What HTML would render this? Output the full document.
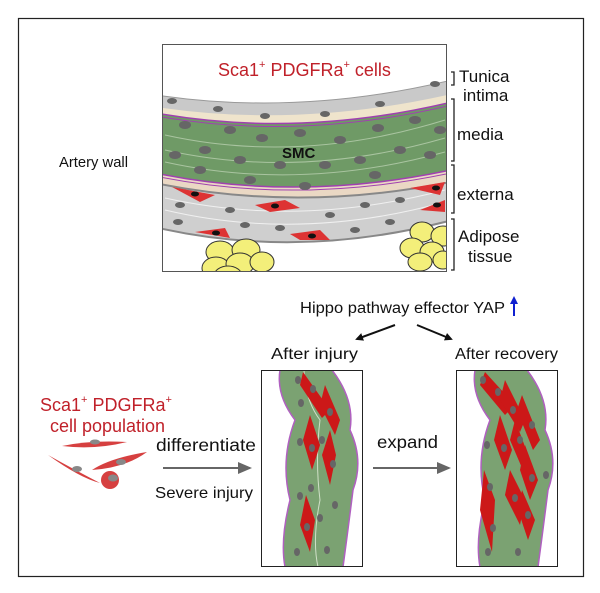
<!DOCTYPE html>
<html><head><meta charset="utf-8"><style>
html,body{margin:0;padding:0;background:#fff}
svg{display:block}
text{font-family:"Liberation Sans",Arial,sans-serif}
</style></head><body>
<svg width="600" height="593" viewBox="0 0 600 593" xmlns="http://www.w3.org/2000/svg">
<defs>
<clipPath id="ct"><rect x="163" y="45" width="283" height="226"/></clipPath>
<clipPath id="cl"><rect x="261" y="370" width="102" height="197"/></clipPath>
<clipPath id="cr"><rect x="456" y="370" width="102" height="197"/></clipPath>
<marker id="ah" markerWidth="8" markerHeight="8" refX="6" refY="4" orient="auto" markerUnits="userSpaceOnUse"><path d="M0,0 L8,4 L0,8z" fill="#111"/></marker>
<marker id="ag" markerWidth="14" markerHeight="12" refX="12" refY="6" orient="auto" markerUnits="userSpaceOnUse"><path d="M0,0 L14,6 L0,12z" fill="#666"/></marker>
</defs>
<rect x="18.5" y="18.5" width="565" height="558" fill="#fff" stroke="#222" stroke-width="1.2"/>

<rect x="162.5" y="44.5" width="284" height="227" fill="#fff" stroke="#555"/>
<g clip-path="url(#ct)">
 <path d="M150,94 Q300,118 460,78 L460,100 Q300,140 150,110z" fill="#c9c9c9" stroke="#999"/>
 <path d="M150,106 Q300,130 460,92 L460,104 Q300,144 150,114z" fill="#efe4cc"/>
 <path d="M150,112 Q300,140 460,100 L460,168 Q300,204 150,172z" fill="#6f9a66"/>
 <path d="M150,172 Q300,204 460,168 L460,180 Q300,214 150,182z" fill="#ead8c4"/>
 <path d="M150,182 Q300,214 460,180 L460,218 Q300,262 150,226z" fill="#cfcfcf" stroke="#888" stroke-width="2"/>
 <path d="M150,112 Q300,140 460,100" fill="none" stroke="#a040b0" stroke-width="1.5"/>
 <path d="M150,115 Q300,143 460,103" fill="none" stroke="#a040b0" stroke-width="1"/>
 <path d="M150,172 Q300,204 460,168" fill="none" stroke="#a040b0" stroke-width="1.5"/>
 <path d="M150,175 Q300,207 460,171" fill="none" stroke="#a040b0" stroke-width="1"/>
 <g stroke="#a9c4a0" stroke-width="1" fill="none">
  <path d="M165,135 Q300,165 445,120"/><path d="M165,150 Q300,180 445,138"/><path d="M165,162 Q300,192 445,152"/>
 </g>
 <g stroke="#f0f0f0" stroke-width="1" fill="none">
  <path d="M165,198 Q300,228 445,190"/><path d="M165,210 Q300,242 445,202"/>
 </g>
 <g fill="#d33">
  <path d="M172,187 L215,195 L200,202z"/><path d="M255,205 L285,200 L300,208 L270,212z"/><path d="M410,188 L445,182 L440,195z"/><path d="M420,210 L445,200 L445,212z"/><path d="M195,232 L225,228 L230,238z"/><path d="M290,234 L320,230 L330,240 L300,240z"/>
 </g>
 <g fill="#111"><ellipse cx="195" cy="194" rx="4" ry="2.5"/><ellipse cx="275" cy="206" rx="4" ry="2.5"/><ellipse cx="436" cy="188" rx="4" ry="2.5"/><ellipse cx="437" cy="205" rx="4" ry="2.5"/><ellipse cx="216" cy="233" rx="4" ry="2.5"/><ellipse cx="312" cy="236" rx="4" ry="2.5"/></g>
 <g fill="#666">
  <ellipse cx="172" cy="101" rx="5" ry="3"/><ellipse cx="218" cy="109" rx="5" ry="3"/><ellipse cx="265" cy="116" rx="5" ry="3"/><ellipse cx="325" cy="114" rx="5" ry="3"/><ellipse cx="380" cy="104" rx="5" ry="3"/><ellipse cx="435" cy="84" rx="5" ry="3"/>
  <ellipse cx="185" cy="125" rx="6" ry="4"/><ellipse cx="230" cy="130" rx="6" ry="4"/><ellipse cx="262" cy="138" rx="6" ry="4"/><ellipse cx="300" cy="133" rx="6" ry="4"/><ellipse cx="340" cy="140" rx="6" ry="4"/><ellipse cx="378" cy="128" rx="6" ry="4"/><ellipse cx="415" cy="120" rx="6" ry="4"/><ellipse cx="440" cy="130" rx="6" ry="4"/>
  <ellipse cx="175" cy="155" rx="6" ry="4"/><ellipse cx="205" cy="150" rx="6" ry="4"/><ellipse cx="240" cy="160" rx="6" ry="4"/><ellipse cx="280" cy="165" rx="6" ry="4"/><ellipse cx="325" cy="165" rx="6" ry="4"/><ellipse cx="360" cy="160" rx="6" ry="4"/><ellipse cx="400" cy="150" rx="6" ry="4"/><ellipse cx="430" cy="155" rx="6" ry="4"/>
  <ellipse cx="200" cy="170" rx="6" ry="4"/><ellipse cx="250" cy="180" rx="6" ry="4"/><ellipse cx="305" cy="186" rx="6" ry="4"/><ellipse cx="375" cy="175" rx="6" ry="4"/>
  <ellipse cx="180" cy="205" rx="5" ry="3"/><ellipse cx="230" cy="210" rx="5" ry="3"/><ellipse cx="330" cy="215" rx="5" ry="3"/><ellipse cx="365" cy="205" rx="5" ry="3"/><ellipse cx="400" cy="200" rx="5" ry="3"/><ellipse cx="245" cy="225" rx="5" ry="3"/><ellipse cx="280" cy="228" rx="5" ry="3"/><ellipse cx="355" cy="230" rx="5" ry="3"/><ellipse cx="390" cy="222" rx="5" ry="3"/><ellipse cx="178" cy="222" rx="5" ry="3"/>
 </g>
 <g fill="#f3ef7a" stroke="#333" stroke-width="1">
  <ellipse cx="220" cy="252" rx="14" ry="11"/><ellipse cx="246" cy="250" rx="14" ry="11"/><ellipse cx="216" cy="268" rx="14" ry="11"/><ellipse cx="240" cy="264" rx="14" ry="11"/><ellipse cx="262" cy="262" rx="12" ry="10"/><ellipse cx="228" cy="276" rx="14" ry="10"/>
  <ellipse cx="422" cy="232" rx="12" ry="10"/><ellipse cx="443" cy="236" rx="12" ry="10"/><ellipse cx="412" cy="248" rx="12" ry="10"/><ellipse cx="432" cy="252" rx="12" ry="10"/><ellipse cx="420" cy="262" rx="12" ry="9"/><ellipse cx="443" cy="260" rx="10" ry="9"/>
 </g>
 <text x="282" y="158" font-size="15" font-weight="bold" fill="#111">SMC</text>
</g>
<text x="218" y="76" font-size="18" fill="#c0212a">Sca1<tspan font-size="11" dy="-8">+</tspan><tspan dy="8"> PDGFRa</tspan><tspan font-size="11" dy="-8">+</tspan><tspan dy="8"> cells</tspan></text>

<g stroke="#222" stroke-width="1.3" fill="none">
 <path d="M451,72 h3 v13 h-3"/><path d="M451,99 h3 v62 h-3"/><path d="M451,165 h3 v48 h-3"/><path d="M451,219 h3 v51 h-3"/>
</g>
<g font-size="17" fill="#111">
 <text x="459" y="82">Tunica</text><text x="463" y="101">intima</text>
 <text x="457" y="140">media</text><text x="457" y="200">externa</text>
 <text x="458" y="242">Adipose</text><text x="468" y="262">tissue</text>
</g>
<text x="59" y="167" font-size="15" fill="#111" textLength="69" lengthAdjust="spacingAndGlyphs">Artery wall</text>

<text x="300" y="313" font-size="15.5" fill="#111" textLength="205" lengthAdjust="spacingAndGlyphs">Hippo pathway effector YAP</text>
<path d="M514,316 V302" stroke="#1020d0" stroke-width="2"/><path d="M510,304 L514,296 L518,304z" fill="#1020d0"/>
<line x1="395" y1="325" x2="357" y2="339" stroke="#111" stroke-width="2" marker-end="url(#ah)"/>
<line x1="417" y1="325" x2="451" y2="339" stroke="#111" stroke-width="2" marker-end="url(#ah)"/>
<text x="271" y="359" font-size="15.5" fill="#111" textLength="87" lengthAdjust="spacingAndGlyphs">After injury</text>
<text x="455" y="359" font-size="15.5" fill="#111" textLength="103" lengthAdjust="spacingAndGlyphs">After recovery</text>

<text x="40" y="411" font-size="18" fill="#c0212a">Sca1<tspan font-size="11" dy="-8">+</tspan><tspan dy="8"> PDGFRa</tspan><tspan font-size="11" dy="-8">+</tspan></text>
<text x="50" y="432" font-size="18" fill="#c0212a" textLength="115" lengthAdjust="spacingAndGlyphs">cell population</text>
<text x="156" y="451" font-size="17.5" fill="#111" textLength="100" lengthAdjust="spacingAndGlyphs">differentiate</text>
<text x="155" y="498" font-size="16" fill="#111" textLength="98" lengthAdjust="spacingAndGlyphs">Severe injury</text>
<line x1="163" y1="468" x2="250" y2="468" stroke="#666" stroke-width="2" marker-end="url(#ag)"/>
<text x="377" y="448" font-size="17.5" fill="#111" textLength="61" lengthAdjust="spacingAndGlyphs">expand</text>
<line x1="373" y1="468" x2="449" y2="468" stroke="#666" stroke-width="2" marker-end="url(#ag)"/>

<g fill="#d64040">
 <path d="M62,446 Q90,440 127,442 Q95,450 62,446z"/>
 <path d="M48,455 Q75,470 100,483 Q80,478 48,455z"/>
 <path d="M92,470 Q110,458 147,452 Q125,468 92,470z"/>
 <circle cx="110" cy="480" r="9"/>
</g>
<g fill="#888"><ellipse cx="95" cy="442" rx="5" ry="2.5"/><ellipse cx="77" cy="469" rx="5" ry="3"/><ellipse cx="121" cy="462" rx="5" ry="3"/><ellipse cx="113" cy="478" rx="5" ry="3.5"/></g>

<g clip-path="url(#cl)">
 <path d="M280,370 Q276,395 295,420 Q280,460 290,500 Q280,540 285,567 L343,567 Q348,530 353,490 Q364,460 350,430 Q355,400 332,370z" fill="#7ba272" stroke="#b060c0" stroke-width="1.5"/>
 <path d="M304,370 Q305,400 320,420 Q315,460 320,500 Q312,540 318,567" fill="none" stroke="#d0e0c8" stroke-width="1"/>
 <g fill="#cc1818"><path d="M303,372 L330,410 L322,418 L300,385z"/><path d="M325,385 L340,420 L335,435 L320,405z"/><path d="M310,415 L320,445 L312,470 L303,440z"/><path d="M330,430 L336,455 L330,485 L322,455z"/><path d="M306,495 L315,520 L310,552 L300,525z"/></g>
 <g fill="#666"><ellipse cx="298" cy="380" rx="3" ry="4"/><ellipse cx="313" cy="389" rx="3" ry="4"/><ellipse cx="330" cy="412" rx="3" ry="4"/><ellipse cx="301" cy="403" rx="3" ry="4"/><ellipse cx="312" cy="448" rx="3" ry="4"/><ellipse cx="300" cy="442" rx="3" ry="4"/><ellipse cx="322" cy="440" rx="3" ry="4"/><ellipse cx="333" cy="464" rx="3" ry="4"/><ellipse cx="311" cy="488" rx="3" ry="4"/><ellipse cx="300" cy="496" rx="3" ry="4"/><ellipse cx="307" cy="527" rx="3" ry="4"/><ellipse cx="320" cy="518" rx="3" ry="4"/><ellipse cx="297" cy="552" rx="3" ry="4"/><ellipse cx="327" cy="550" rx="3" ry="4"/><ellipse cx="335" cy="505" rx="3" ry="4"/></g>
</g>
<rect x="261.5" y="370.5" width="101" height="196" fill="none" stroke="#222"/>

<g clip-path="url(#cr)">
 <path d="M475,370 Q471,395 490,420 Q475,460 485,500 Q475,540 480,567 L538,567 Q543,530 548,490 Q559,460 545,430 Q550,400 527,370z" fill="#7ba272" stroke="#b060c0" stroke-width="1.5"/>
 <g fill="#cc1818"><path d="M485,372 L515,405 L505,415 L480,385z"/><path d="M505,380 L525,420 L520,432 L500,400z"/><path d="M522,395 L540,440 L533,450 L517,410z"/><path d="M500,415 L512,450 L505,470 L494,440z"/><path d="M515,420 L530,460 L525,475 L510,440z"/><path d="M525,445 L538,480 L530,500 L520,470z"/><path d="M484,470 L495,500 L492,552 L480,510z"/><path d="M510,470 L525,500 L520,525 L505,495z"/><path d="M522,490 L535,520 L528,540 L518,510z"/></g>
 <g fill="#666"><ellipse cx="483" cy="380" rx="3" ry="4"/><ellipse cx="498" cy="392" rx="3" ry="4"/><ellipse cx="513" cy="410" rx="3" ry="4"/><ellipse cx="532" cy="425" rx="3" ry="4"/><ellipse cx="504" cy="448" rx="3" ry="4"/><ellipse cx="520" cy="440" rx="3" ry="4"/><ellipse cx="487" cy="445" rx="3" ry="4"/><ellipse cx="532" cy="478" rx="3" ry="4"/><ellipse cx="490" cy="487" rx="3" ry="4"/><ellipse cx="515" cy="498" rx="3" ry="4"/><ellipse cx="493" cy="528" rx="3" ry="4"/><ellipse cx="528" cy="515" rx="3" ry="4"/><ellipse cx="488" cy="552" rx="3" ry="4"/><ellipse cx="518" cy="552" rx="3" ry="4"/><ellipse cx="546" cy="475" rx="3" ry="4"/></g>
</g>
<rect x="456.5" y="370.5" width="101" height="196" fill="none" stroke="#222"/>
</svg>
</body></html>
